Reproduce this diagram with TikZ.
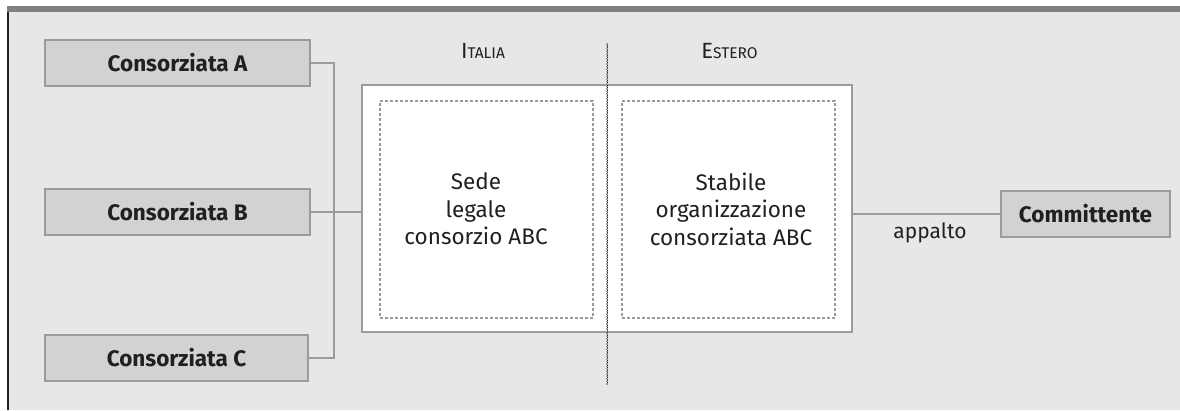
\documentclass[tikz,border=0pt]{standalone}
\usepackage{fontspec}
\setmainfont{Fira Sans}
\definecolor{bgc}{HTML}{E6E7E9}
\definecolor{topbar}{HTML}{808183}
\definecolor{leftl}{HTML}{231F20}
\definecolor{boxfill}{HTML}{D1D2D4}
\definecolor{edge}{HTML}{9A9B9D}
\definecolor{txt}{HTML}{231F20}
\tikzset{
  cbox/.style={draw=edge, line width=2.6pt, fill=boxfill, minimum height=46pt, inner sep=0pt,
    font=\bfseries\fontsize{22.5}{22.5}\selectfont, text=txt},
  conn/.style={draw=edge, line width=2.6pt},
  dbox/.style={draw=edge, line width=2.4pt, dash pattern=on 2.8pt off 2.2pt, fill=white},
  body/.style={text=txt, align=center, font=\fontsize{22.5}{27.5}\selectfont},
}
\begin{document}
\begin{tikzpicture}[x=1pt,y=-1pt]
\useasboundingbox (0,0) rectangle (1180,410);
\fill[white] (0,0) rectangle (1180,410);
\fill[bgc] (9,12) rectangle (1180,410);
\fill[topbar] (7,6) rectangle (1180,12);
\draw[leftl, line width=2.4pt] (8,12) -- (8,410);
% left boxes
\node[cbox, minimum width=265pt] (A) at (177.5,63) {Consorziata A};
\node[cbox, minimum width=265pt] (B) at (177.5,212) {Consorziata B};
\node[cbox, minimum width=263pt] (C) at (176.5,358) {Consorziata C};
% main box
\node[draw=edge, line width=2.6pt, fill=white, minimum width=490pt, minimum height=247pt, inner sep=0pt] (M) at (607,208.5) {};
\node[dbox, minimum width=213pt, minimum height=217pt, inner sep=0pt] (L) at (486.5,209.5) {};
\node[dbox, minimum width=213pt, minimum height=217pt, inner sep=0pt] (R) at (728.5,209.5) {};
\node[body] (Ltxt) at (476,209) {Sede\\legale\\consorzio ABC};
\node[body] (Rtxt) at (731,209) {Stabile\\organizzazione\\consorziata ABC};
% labels
\node[text=txt, anchor=base] (IT) at (483,58) {{\fontsize{22}{22}\selectfont I}{\fontsize{15.5}{15.5}\selectfont TALIA}};
\node[text=txt, anchor=base] (ES) at (729.5,58) {{\fontsize{22}{22}\selectfont E}{\fontsize{15.5}{15.5}\selectfont STERO}};
% divider
\coordinate (dt) at (607,43);
\coordinate (db) at (607,385);
\draw[leftl, line width=0.7pt] (dt) -- (db);
\draw[edge, line width=1.6pt, dash pattern=on 1.5pt off 1pt] (dt) -- (db);
% committente
\node[cbox, minimum width=169pt] (K) at (1085.5,214) {Committente};
% connectors
\coordinate (j) at (334,212);
\draw[conn] (A.east) -| (j) |- (C.east);
\draw[conn] (B.east) -- (M.west |- B.east);
\draw[conn] (M.east |- K.west) -- (K.west);
\node[text=txt, font=\fontsize{21}{21}\selectfont, anchor=base] (ap) at (930,238) {appalto};
\end{tikzpicture}
\end{document}
